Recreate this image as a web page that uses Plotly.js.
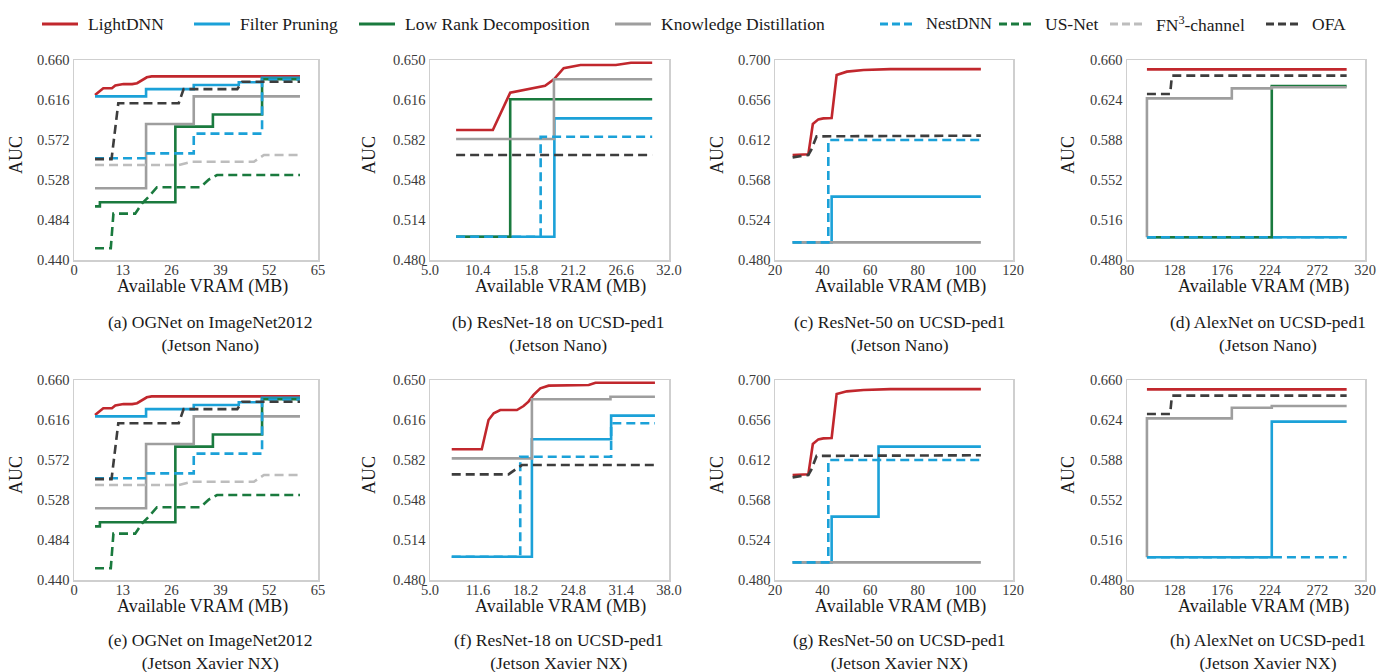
<!DOCTYPE html>
<html><head><meta charset="utf-8">
<script src="https://cdn.plot.ly/plotly-3.0.1.min.js"></script>
<style>html,body{margin:0;padding:0;background:#fff}#chart{width:1390px;height:672px}</style>
</head><body><div id="chart"></div>
<script>
// ---------- methods ----------
const methods = ['LightDNN','Filter Pruning','Low Rank Decomposition','Knowledge Distillation','NestDNN','US-Net','FN<sup>3</sup>-channel','OFA'];

// ---------- tick values / labels ----------
const xTicksOGNet = [0,13,26,39,52,65];
const xLabelsOGNet = ['0','13','26','39','52','65'];
const yTicksOGNet = [0.440,0.484,0.528,0.572,0.616,0.660];
const yLabelsOGNet = ['0.440','0.484','0.528','0.572','0.616','0.660'];
const xTicksR18Nano = [5.0,10.4,15.8,21.2,26.6,32.0];
const xLabelsR18Nano = ['5.0','10.4','15.8','21.2','26.6','32.0'];
const xTicksR18Xavier = [5.0,11.6,18.2,24.8,31.4,38.0];
const xLabelsR18Xavier = ['5.0','11.6','18.2','24.8','31.4','38.0'];
const yTicksR18 = [0.480,0.514,0.548,0.582,0.616,0.650];
const yLabelsR18 = ['0.480','0.514','0.548','0.582','0.616','0.650'];
const xTicksR50 = [20,40,60,80,100,120];
const xLabelsR50 = ['20','40','60','80','100','120'];
const yTicksR50 = [0.480,0.524,0.568,0.612,0.656,0.700];
const yLabelsR50 = ['0.480','0.524','0.568','0.612','0.656','0.700'];
const xTicksAlex = [80,128,176,224,272,320];
const xLabelsAlex = ['80','128','176','224','272','320'];
const yTicksAlex = [0.480,0.516,0.552,0.588,0.624,0.660];
const yLabelsAlex = ['0.480','0.516','0.552','0.588','0.624','0.660'];
const xTitle = 'Available VRAM (MB)';
const yTitle = 'AUC';

// ---------- (a)/(e) OGNet on ImageNet2012 ----------
const og_light_x = [5.6, 7.8, 10.1, 11.0, 13.2, 15.5, 16.8, 17.6, 19.4, 20.7, 60.2];
const og_light_y = [0.6215, 0.629, 0.629, 0.632, 0.6335, 0.6335, 0.6345, 0.6365, 0.641, 0.642, 0.642];
const og_fp_x = [5.6, 19.2, 31.9, 43.9, 50.1, 60.2];
const og_fp_y = [0.620, 0.628, 0.6325, 0.6355, 0.6405, 0.6405];
const og_lr_x = [5.6, 6.9, 27.0, 37.0, 50.1, 60.2];
const og_lr_y = [0.499, 0.5035, 0.5867, 0.600, 0.639, 0.639];
const og_kd_x = [5.6, 19.2, 31.9, 60.2];
const og_kd_y = [0.519, 0.5896, 0.620, 0.620];
const og_nest_x = [5.6, 19.2, 31.9, 50.1, 60.2];
const og_nest_y = [0.552, 0.5573, 0.579, 0.6385, 0.6385];
const og_us_x = [5.6, 9.8, 10.5, 16.3, 18.1, 19.9, 22.1, 33.7, 35.9, 38.1, 60.2];
const og_us_y = [0.453, 0.453, 0.491, 0.491, 0.502, 0.5095, 0.520, 0.520, 0.5285, 0.5335, 0.5335];
const og_fn_x = [5.6, 27.9, 31.4, 47.9, 50.6, 60.2];
const og_fn_y = [0.5445, 0.5445, 0.548, 0.548, 0.5555, 0.5555];
const og_ofa_x = [5.6, 10.0, 11.8, 27.9, 29.2, 43.5, 44.8, 60.2];
const og_ofa_y = [0.551, 0.551, 0.6125, 0.6125, 0.628, 0.628, 0.636, 0.636];

// ---------- (b) ResNet-18 Jetson Nano ----------
const b_light_x = [7.95, 12.1, 14.06, 15.2, 16.7, 18.0, 19.0, 20.1, 22.0, 26.0, 27.7, 30.1];
const b_light_y = [0.5905, 0.5905, 0.6222, 0.624, 0.626, 0.628, 0.6336, 0.643, 0.6458, 0.6458, 0.6477, 0.6477];
const b_fp_x = [7.95, 19.05, 30.1];
const b_fp_y = [0.4998, 0.6004, 0.6004];
const b_lr_x = [7.95, 14.06, 30.1];
const b_lr_y = [0.4998, 0.6166, 0.6166];
const b_kd_x = [7.95, 19.0, 30.1];
const b_kd_y = [0.5828, 0.6336, 0.6336];
const b_nest_x = [7.95, 17.5, 30.1];
const b_nest_y = [0.4998, 0.5848, 0.5848];
const b_ofa_x = [7.95, 30.1];
const b_ofa_y = [0.5692, 0.5692];

// ---------- (c) ResNet-50 Jetson Nano ----------
const c_light_x = [27.4, 34.0, 35.9, 38.2, 40.3, 43.8, 45.9, 50.2, 57.2, 68.4, 106.5];
const c_light_y = [0.5955, 0.5962, 0.6296, 0.6347, 0.6358, 0.6362, 0.6835, 0.6872, 0.689, 0.690, 0.690];
const c_fp_x = [27.4, 43.8, 106.5];
const c_fp_y = [0.4994, 0.5497, 0.5497];
const c_kd_x = [27.4, 106.5];
const c_kd_y = [0.4994, 0.4994];
const c_nest_x = [27.4, 42.4, 106.5];
const c_nest_y = [0.4994, 0.612, 0.612];
const c_ofa_x = [27.4, 34.0, 35.2, 37.5, 106.5];
const c_ofa_y = [0.5929, 0.5955, 0.601, 0.6160, 0.6168];

// ---------- (d) AlexNet Jetson Nano ----------
const d_light_x = [100.1, 301.5];
const d_light_y = [0.6516, 0.6516];
const d_fp_x = [100.1, 301.5];
const d_fp_y = [0.5005, 0.5005];
const d_lr_x = [100.1, 226.0, 301.5];
const d_lr_y = [0.5005, 0.6366, 0.6366];
const d_kd_x = [100.1, 100.1, 185.7, 226.0, 301.5];
const d_kd_y = [0.5005, 0.6255, 0.6345, 0.6355, 0.6355];
const d_nest_x = [100.1, 301.5];
const d_nest_y = [0.5005, 0.5005];
const d_ofa_x = [100.1, 123.5, 125.3, 301.5];
const d_ofa_y = [0.6294, 0.6294, 0.6459, 0.6459];

// ---------- (f) ResNet-18 Jetson Xavier NX ----------
const f_light_x = [8.0, 12.15, 13.08, 13.8, 14.7, 17.0, 17.92, 18.6, 19.3, 20.23, 21.38, 26.92, 27.85, 36.06];
const f_light_y = [0.5911, 0.5911, 0.616, 0.6217, 0.6245, 0.6245, 0.6279, 0.6316, 0.6373, 0.6429, 0.6452, 0.6457, 0.6477, 0.6477];
const f_fp_x = [8.0, 19.07, 30.01, 36.06];
const f_fp_y = [0.4998, 0.5996, 0.6197, 0.6197];
const f_kd_x = [8.0, 19.07, 29.92, 36.06];
const f_kd_y = [0.5834, 0.6336, 0.6358, 0.6358];
const f_nest_x = [8.0, 17.46, 30.01, 36.06];
const f_nest_y = [0.4998, 0.5848, 0.6132, 0.6132];
const f_ofa_x = [8.0, 15.84, 17.69, 36.06];
const f_ofa_y = [0.5698, 0.5698, 0.5777, 0.5777];

// ---------- (g) ResNet-50 Jetson Xavier NX ----------
const g_light_x = [27.4, 34.0, 35.9, 38.2, 40.3, 43.8, 45.9, 50.2, 57.2, 68.4, 106.5];
const g_light_y = [0.5955, 0.5962, 0.6296, 0.6347, 0.6358, 0.6362, 0.6845, 0.6875, 0.689, 0.690, 0.690];
const g_fp_x = [27.4, 43.8, 63.5, 106.5];
const g_fp_y = [0.4994, 0.5497, 0.6267, 0.6267];
const g_kd_x = [27.4, 106.5];
const g_kd_y = [0.4994, 0.4994];
const g_nest_x = [27.4, 42.4, 106.5];
const g_nest_y = [0.4994, 0.612, 0.6135];
const g_ofa_x = [27.4, 34.0, 35.2, 37.5, 106.5];
const g_ofa_y = [0.5929, 0.5955, 0.601, 0.6165, 0.6172];

// ---------- (h) AlexNet Jetson Xavier NX ----------
const h_light_x = [100.1, 301.5];
const h_light_y = [0.6516, 0.6516];
const h_fp_x = [100.1, 226.0, 301.5];
const h_fp_y = [0.5005, 0.6225, 0.6225];
const h_kd_x = [100.1, 100.1, 185.7, 226.0, 301.5];
const h_kd_y = [0.5005, 0.6255, 0.635, 0.6366, 0.6366];
const h_nest_x = [100.1, 301.5];
const h_nest_y = [0.5005, 0.5005];
const h_ofa_x = [100.1, 123.5, 125.3, 301.5];
const h_ofa_y = [0.6294, 0.6294, 0.6459, 0.6459];

// ---------- captions ----------
const captions = [
  '(a) OGNet on ImageNet2012<br>(Jetson Nano)',
  '(b) ResNet-18 on UCSD-ped1<br>(Jetson Nano)',
  '(c) ResNet-50 on UCSD-ped1<br>(Jetson Nano)',
  '(d) AlexNet on UCSD-ped1<br>(Jetson Nano)',
  '(e) OGNet on ImageNet2012<br>(Jetson Xavier NX)',
  '(f) ResNet-18 on UCSD-ped1<br>(Jetson Xavier NX)',
  '(g) ResNet-50 on UCSD-ped1<br>(Jetson Xavier NX)',
  '(h) AlexNet on UCSD-ped1<br>(Jetson Xavier NX)'
];

// ---------- styles (presentation) ----------
const FONT = 'Liberation Serif';
const W = 1390, H = 672;
const DASH = '9px,5px';
const style = {
  'LightDNN': {color:'#c1272d', dash:'solid'},
  'Filter Pruning': {color:'#1ba1d8', dash:'solid'},
  'Low Rank Decomposition': {color:'#1a7a3e', dash:'solid'},
  'Knowledge Distillation': {color:'#9e9e9e', dash:'solid'},
  'NestDNN': {color:'#1ba1d8', dash:DASH},
  'US-Net': {color:'#1a7a3e', dash:DASH},
  'FN<sup>3</sup>-channel': {color:'#bdbdbd', dash:DASH},
  'OFA': {color:'#3d3d3d', dash:DASH}
};

// series per panel: [method index, x, y, line shape]
const panels = [
  {series:[[0,og_light_x,og_light_y,'linear'],[1,og_fp_x,og_fp_y,'hv'],[2,og_lr_x,og_lr_y,'hv'],[3,og_kd_x,og_kd_y,'hv'],[4,og_nest_x,og_nest_y,'hv'],[5,og_us_x,og_us_y,'linear'],[6,og_fn_x,og_fn_y,'linear'],[7,og_ofa_x,og_ofa_y,'linear']],
   xt:xTicksOGNet, xl:xLabelsOGNet, yt:yTicksOGNet, yl:yLabelsOGNet},
  {series:[[0,b_light_x,b_light_y,'linear'],[1,b_fp_x,b_fp_y,'hv'],[2,b_lr_x,b_lr_y,'hv'],[3,b_kd_x,b_kd_y,'hv'],[4,b_nest_x,b_nest_y,'hv'],[7,b_ofa_x,b_ofa_y,'linear']],
   xt:xTicksR18Nano, xl:xLabelsR18Nano, yt:yTicksR18, yl:yLabelsR18},
  {series:[[0,c_light_x,c_light_y,'linear'],[1,c_fp_x,c_fp_y,'hv'],[3,c_kd_x,c_kd_y,'hv'],[4,c_nest_x,c_nest_y,'hv'],[7,c_ofa_x,c_ofa_y,'linear']],
   xt:xTicksR50, xl:xLabelsR50, yt:yTicksR50, yl:yLabelsR50},
  {series:[[0,d_light_x,d_light_y,'linear'],[1,d_fp_x,d_fp_y,'hv'],[2,d_lr_x,d_lr_y,'hv'],[3,d_kd_x,d_kd_y,'hv'],[4,d_nest_x,d_nest_y,'hv'],[7,d_ofa_x,d_ofa_y,'linear']],
   xt:xTicksAlex, xl:xLabelsAlex, yt:yTicksAlex, yl:yLabelsAlex},
  {series:[[0,og_light_x,og_light_y,'linear'],[1,og_fp_x,og_fp_y,'hv'],[2,og_lr_x,og_lr_y,'hv'],[3,og_kd_x,og_kd_y,'hv'],[4,og_nest_x,og_nest_y,'hv'],[5,og_us_x,og_us_y,'linear'],[6,og_fn_x,og_fn_y,'linear'],[7,og_ofa_x,og_ofa_y,'linear']],
   xt:xTicksOGNet, xl:xLabelsOGNet, yt:yTicksOGNet, yl:yLabelsOGNet},
  {series:[[0,f_light_x,f_light_y,'linear'],[1,f_fp_x,f_fp_y,'hv'],[3,f_kd_x,f_kd_y,'hv'],[4,f_nest_x,f_nest_y,'hv'],[7,f_ofa_x,f_ofa_y,'linear']],
   xt:xTicksR18Xavier, xl:xLabelsR18Xavier, yt:yTicksR18, yl:yLabelsR18},
  {series:[[0,g_light_x,g_light_y,'linear'],[1,g_fp_x,g_fp_y,'hv'],[3,g_kd_x,g_kd_y,'hv'],[4,g_nest_x,g_nest_y,'hv'],[7,g_ofa_x,g_ofa_y,'linear']],
   xt:xTicksR50, xl:xLabelsR50, yt:yTicksR50, yl:yLabelsR50},
  {series:[[0,h_light_x,h_light_y,'linear'],[1,h_fp_x,h_fp_y,'hv'],[3,h_kd_x,h_kd_y,'hv'],[4,h_nest_x,h_nest_y,'hv'],[7,h_ofa_x,h_ofa_y,'linear']],
   xt:xTicksAlex, xl:xLabelsAlex, yt:yTicksAlex, yl:yLabelsAlex}
];

// layout geometry (pixels)
const colsPx = [[74,318],[430,669],[775,1013],[1127,1365]];
const rowsPx = [[60,260],[380,580]];
const capCenters = [210, 558, 899, 1268];
const capRowY = [333, 651];
const xTitleCenters = [202, 560, 900, 1263];
const xTitleRowY = [286, 606];
const yTitleCenters = [16, 369, 717, 1068];
const yTitleRowY = [155, 475];

const traces = [];
const layout = {
  width: W, height: H,
  margin: {l:0, r:0, t:0, b:0},
  paper_bgcolor: '#fff', plot_bgcolor: '#fff',
  showlegend: false,
  font: {family: FONT, color: '#222'},
  annotations: [], shapes: []
};

panels.forEach((p, i) => {
  const k = i + 1;
  const xa = 'x' + (k === 1 ? '' : k), ya = 'y' + (k === 1 ? '' : k);
  const col = i % 4, row = Math.floor(i / 4);
  p.series.forEach(s => {
    const m = methods[s[0]];
    traces.push({
      type: 'scatter', mode: 'lines', x: s[1], y: s[2], name: m,
      xaxis: xa, yaxis: ya, hoverinfo: 'skip',
      line: {color: style[m].color, dash: style[m].dash, width: 2.6, shape: s[3]}
    });
  });
  const common = {
    showgrid: false, zeroline: false, showline: true, mirror: true,
    linecolor: '#cfcfcf', linewidth: 1.5, ticks: '',
    tickfont: {family: FONT, size: 14.5, color: '#3a3a3a'}, automargin: false,
    tickmode: 'array'
  };
  layout['xaxis' + (k === 1 ? '' : k)] = Object.assign({}, common, {
    domain: [colsPx[col][0] / W, colsPx[col][1] / W],
    anchor: ya,
    range: [p.xt[0], p.xt[p.xt.length - 1]],
    tickvals: p.xt, ticktext: p.xl,
    ticklabelstandoff: -4
  });
  layout['yaxis' + (k === 1 ? '' : k)] = Object.assign({}, common, {
    domain: [1 - rowsPx[row][1] / H, 1 - rowsPx[row][0] / H],
    anchor: xa,
    range: [p.yt[0], p.yt[p.yt.length - 1]],
    tickvals: p.yt, ticktext: p.yl
  });
  // axis titles
  layout.annotations.push({
    text: xTitle, xref: 'paper', yref: 'paper',
    x: xTitleCenters[col] / W, y: 1 - xTitleRowY[row] / H,
    xanchor: 'center', yanchor: 'middle', showarrow: false,
    font: {family: FONT, size: 18, color: '#1a1a1a'}
  });
  layout.annotations.push({
    text: yTitle, xref: 'paper', yref: 'paper', textangle: -90,
    x: yTitleCenters[col] / W, y: 1 - yTitleRowY[row] / H,
    xanchor: 'center', yanchor: 'middle', showarrow: false,
    font: {family: FONT, size: 18, color: '#1a1a1a'}
  });
  // caption
  layout.annotations.push({
    text: captions[i], xref: 'paper', yref: 'paper',
    x: capCenters[col] / W, y: 1 - capRowY[row] / H,
    xanchor: 'center', yanchor: 'middle', showarrow: false, align: 'center',
    font: {family: FONT, size: 17.5, color: '#1a1a1a'}
  });
});

// legend (drawn manually along the top)
const legLineStart = [42, 194, 359, 615, 880, 999, 1110, 1266];
const legY = 24;
methods.forEach((m, j) => {
  const x0 = legLineStart[j];
  const dashed = j >= 4;
  layout.shapes.push({
    type: 'line', xref: 'paper', yref: 'paper',
    x0: x0 / W, x1: (x0 + 36) / W, y0: 1 - legY / H, y1: 1 - legY / H,
    line: {color: style[m].color, width: 3, dash: dashed ? '8px,4px' : 'solid'}
  });
  layout.annotations.push({
    text: m, xref: 'paper', yref: 'paper', x: (x0 + 44) / W, y: 1 - legY / H,
    xanchor: 'left', yanchor: 'middle', showarrow: false,
    font: {family: FONT, size: j === 4 ? 16.5 : 17.5, color: '#1a1a1a'}
  });
});

Plotly.newPlot('chart', traces, layout, {staticPlot: true});
</script></body></html>
